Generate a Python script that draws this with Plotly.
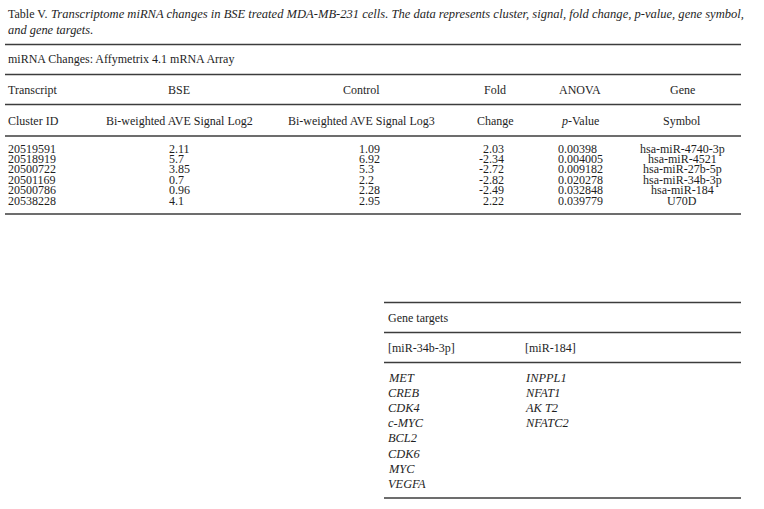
import plotly.graph_objects as go

# ---- data ----
caption_lead = "Table V."
caption_line1 = ("Transcriptome miRNA changes in BSE treated MDA-MB-231 cells. "
                 "The data represents cluster, signal, fold change, p-value, gene symbol,")
caption_line2 = "and gene targets."
subtitle = "miRNA Changes: Affymetrix 4.1 mRNA Array"

header_top = ["Transcript", "BSE", "Control", "Fold", "ANOVA", "Gene"]
header_bottom = ["Cluster ID", "Bi-weighted AVE Signal Log2", "Bi-weighted AVE Signal Log3",
                 "Change", "<i>p</i>-Value", "Symbol"]

cluster_ids = ["20519591", "20518919", "20500722", "20501169", "20500786", "20538228"]
bse_signal = [2.11, 5.7, 3.85, 0.7, 0.96, 4.1]
control_signal = [1.09, 6.92, 5.3, 2.2, 2.28, 2.95]
fold_change = [2.03, -2.34, -2.72, -2.82, -2.49, 2.22]
anova_p = [0.00398, 0.004005, 0.009182, 0.020278, 0.032848, 0.039779]
gene_symbols = ["hsa-miR-4740-3p", "hsa-miR-4521", "hsa-miR-27b-5p",
                "hsa-miR-34b-3p", "hsa-miR-184", "U70D"]

targets_title = "Gene targets"
target_groups = ["[miR-34b-3p]", "[miR-184]"]
mir34b_targets = ["MET", "CREB", "CDK4", "c-MYC", "BCL2", "CDK6", "MYC", "VEGFA"]
mir184_targets = ["INPPL1", "NFAT1", "AK T2", "NFATC2"]

# ---- layout constants ----
W, H = 764, 509
FONT = "Liberation Serif"
FS = 12
TXT = "#1e1e1e"
LINE = "#3c3c3c"

fig = go.Figure()
annotations = []
shapes = []


def txt(x, y, s, anchor="left", size=FS):
    annotations.append(dict(x=x, y=y, xref="x", yref="y", text=s, showarrow=False,
                            xanchor=anchor, yanchor="middle", borderpad=0,
                            font=dict(family=FONT, size=size, color=TXT)))


def rule(y, x0, x1, w=1.3):
    shapes.append(dict(type="line", xref="x", yref="y", x0=x0, x1=x1, y0=y, y1=y,
                       line=dict(color=LINE, width=w)))


# caption
txt(7, 14, caption_lead)
txt(50, 14, "<i>" + caption_line1 + "</i>", size=12.55)
txt(7, 30, "<i>" + caption_line2 + "</i>", size=12.4)

# upper table
L, R = 5, 741
rule(44.5, L, R)
txt(7, 58.5, subtitle)
rule(74.5, L, R)

col_centers = [None, 179, 361, 495, 580, 682]
for i, (a, b) in enumerate(zip(header_top, header_bottom)):
    if i == 0:
        txt(7, 89.5, a)
        txt(7, 121, b)
    else:
        txt(col_centers[i], 89.5, a, "center")
        txt(col_centers[i], 121, b, "center")
rule(104.5, L, R)
rule(136, L, R)

row0, step = 148.5, 10.45
for i in range(len(cluster_ids)):
    y = row0 + i * step
    txt(7, y, cluster_ids[i])
    txt(168, y, str(bse_signal[i]))
    txt(358, y, str(control_signal[i]))
    txt(505, y, str(fold_change[i]), "right")
    txt(557, y, str(anova_p[i]))
    txt(682, y, gene_symbols[i], "center")
rule(214, L, R)

# lower table
LL = 384
rule(302.5, LL, R)
txt(387, 318, targets_title)
rule(332.5, LL, R)
txt(387, 347.5, target_groups[0])
txt(524, 347.5, target_groups[1])
rule(362.5, LL, R)
r0, st = 378, 15.1
for i, g in enumerate(mir34b_targets):
    txt(387, r0 + i * st, "<i>" + g + "</i>", size=12.4)
for i, g in enumerate(mir184_targets):
    txt(524, r0 + i * st, "<i>" + g + "</i>", size=12.4)
rule(498, LL, R)

fig.update_layout(
    width=W, height=H,
    margin=dict(l=0, r=0, t=0, b=0),
    paper_bgcolor="white", plot_bgcolor="white",
    xaxis=dict(range=[0, W], visible=False, fixedrange=True),
    yaxis=dict(range=[H, 0], visible=False, fixedrange=True),
    annotations=annotations, shapes=shapes,
    showlegend=False,
)
fig.write_html("out.html", config={"displayModeBar": False},
               post_script="document.body.style.margin='0';document.body.style.overflow='hidden';")
